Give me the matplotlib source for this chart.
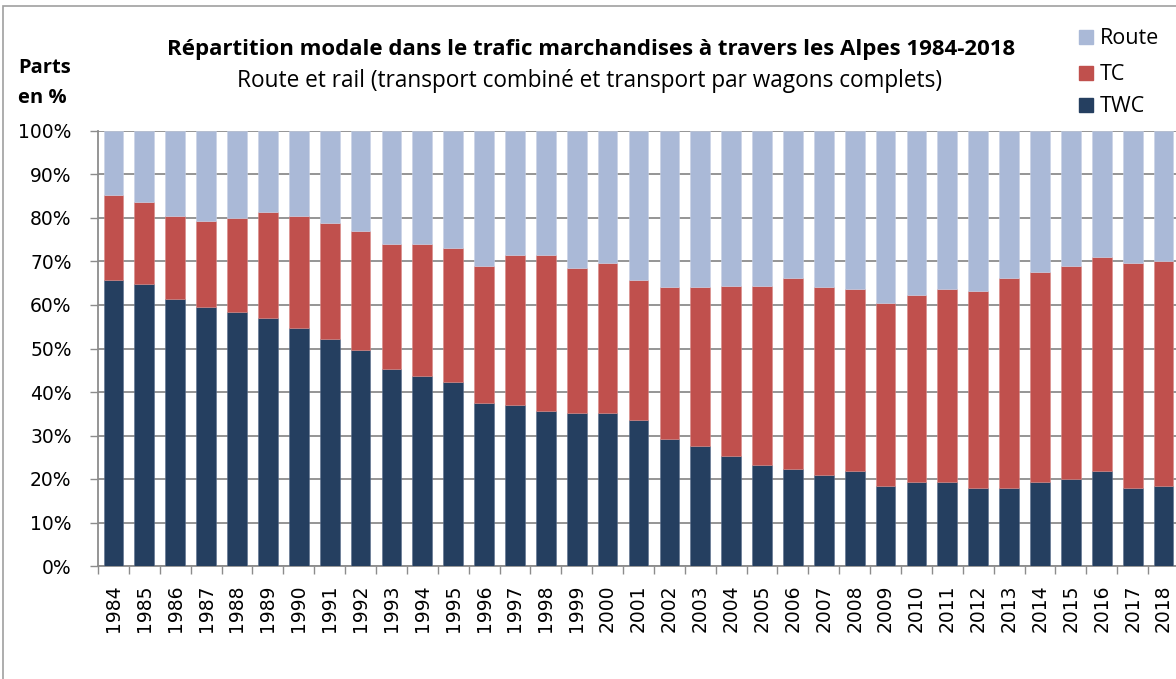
#!/usr/bin/env python
# -*- coding: utf-8 -*-

import matplotlib
matplotlib.use('Agg')

import numpy as np
from matplotlib import pyplot as plt
from matplotlib.patches import Rectangle

years = list(range(1984, 2019))

# part du trafic ferroviaire en wagons complets (TWC), en %
twc = [65.7, 64.9, 61.4, 59.6, 58.4, 57.1, 54.8, 52.2, 49.6, 45.3,
       43.6, 42.3, 37.4, 37.0, 35.7, 35.2, 35.2, 33.6, 29.2, 27.5,
       25.3, 23.2, 22.3, 20.9, 21.9, 18.4, 19.3, 19.3, 17.9, 17.9,
       19.3, 20.0, 21.9, 17.9, 18.4]

# part rail (TWC + TC) cumulée, en %
rail = [85.3, 83.7, 80.5, 79.2, 80.1, 81.4, 80.5, 78.8, 77.1, 74.0,
        74.0, 73.2, 68.9, 71.5, 71.5, 68.4, 69.6, 65.7, 64.1, 64.1,
        64.4, 64.4, 66.3, 64.1, 63.7, 60.4, 62.3, 63.7, 63.2, 66.3,
        67.6, 68.9, 71.0, 69.6, 70.1]

tc = [r - w for r, w in zip(rail, twc)]
route = [100 - r for r in rail]

col_route = '#AAB9D7'
col_tc = '#C0504D'
col_twc = '#253F60'
grid_col = '#8C8C8C'

W, H = 1176, 679
fig = plt.figure(figsize=(W / 100, H / 100), dpi=100)

# cadre du graphique (coupé à droite et en bas)
fig.patches.append(Rectangle((3 / W, -0.1), 1.2, (H - 6) / H + 0.1,
                             transform=fig.transFigure, fill=False,
                             edgecolor='#A0A0A0', lw=1.2))

left, right, top, bottom = 98, 1179, 131, 566
ax = fig.add_axes([left / W, (H - bottom) / H, (right - left) / W, (bottom - top) / H])

x = np.arange(len(years))
bw = 0.64
ax.bar(x, twc, bw, color=col_twc, edgecolor='#5a6f8c', lw=0.4, zorder=3, label='TWC')
ax.bar(x, tc, bw, bottom=twc, color=col_tc, edgecolor='#d88a88', lw=0.4, zorder=3, label='TC')
ax.bar(x, route, bw, bottom=rail, color=col_route, edgecolor='#c8d2e6', lw=0.4, zorder=3, label='Route')

ax.set_xlim(-0.5, len(years) - 0.5)
ax.set_ylim(0, 100)
ax.set_yticks(range(0, 101, 10))
ax.set_yticklabels(['%d%%' % v for v in range(0, 101, 10)], fontsize=13.5, family='DejaVu Sans')
ax.set_xticks(x)
ax.set_xticklabels([str(y) for y in years], rotation=90, fontsize=13.5, family='DejaVu Sans')
ax.set_xticks(np.arange(-0.5, len(years)), minor=True)
ax.tick_params(axis='x', which='major', length=0, pad=13)
ax.tick_params(axis='x', which='minor', length=6, color=grid_col, width=1)
ax.tick_params(axis='y', length=6, color=grid_col, width=1, pad=13)

ax.grid(True, 'major', 'y', color=grid_col, lw=1.3, zorder=0)
ax.set_axisbelow(True)
for s in ['top', 'right']:
    ax.spines[s].set_visible(False)
ax.spines['left'].set_color(grid_col)
ax.spines['left'].set_linewidth(1.3)
ax.spines['bottom'].set_color(grid_col)
ax.spines['bottom'].set_linewidth(1.3)

fig.text(591 / W, 1 - 50 / H,
         'Répartition modale dans le trafic marchandises à travers les Alpes 1984-2018',
         ha='center', va='center', fontsize=16, fontweight='bold', family='Open Sans')
fig.text(590 / W, 1 - 81 / H,
         'Route et rail (transport combiné et transport par wagons complets)',
         ha='center', va='center', fontsize=16.3, family='Open Sans')
fig.text(18 / W, 1 - 68 / H, 'Parts', ha='left', va='center', fontsize=14.5,
         fontweight='bold', family='Open Sans')
fig.text(18 / W, 1 - 98 / H, 'en %', ha='left', va='center', fontsize=14.5,
         fontweight='bold', family='Open Sans')

# légende
for i, (lab, c) in enumerate([('Route', col_route), ('TC', col_tc), ('TWC', col_twc)]):
    yc = [37, 73, 105][i]
    fig.patches.append(Rectangle((1079 / W, 1 - (yc + 7) / H), 14 / W, 14 / H,
                                 transform=fig.transFigure, color=c))
    fig.text(1100 / W, 1 - (yc + 1) / H, lab, ha='left', va='center', fontsize=15.5,
             family='Open Sans')

plt.savefig('out.png', dpi=100)
